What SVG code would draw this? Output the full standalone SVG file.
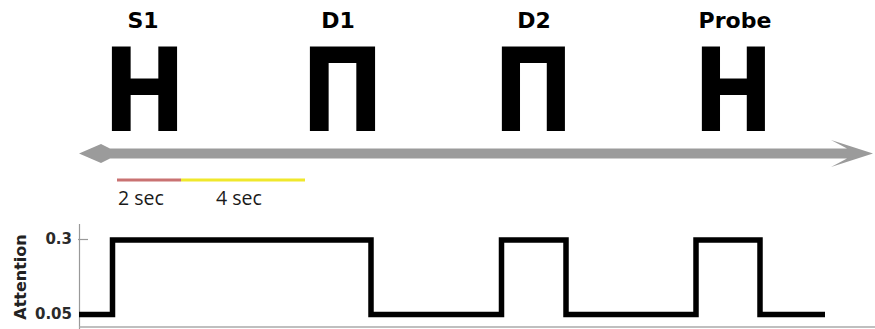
<svg xmlns="http://www.w3.org/2000/svg" width="875" height="329" viewBox="0 0 875 329">
<style>
.lbl{font-family:"DejaVu Sans",Verdana,sans-serif;font-weight:bold;font-size:22px;fill:#000;text-anchor:middle}
.glyph{font-family:"DejaVu Sans",Verdana,sans-serif;font-weight:bold;font-size:115px;fill:#000;text-anchor:middle}
.sec{font-family:"Open Sans","Liberation Sans",sans-serif;font-size:19.5px;fill:#1a1a1a}
.tick{font-family:"DejaVu Sans",sans-serif;font-weight:bold;font-size:15px;fill:#2a2a2a;text-anchor:end}
.axis{stroke:#999;stroke-width:1.2;fill:none}
</style>
<rect width="875" height="329" fill="#fff"/>
<g id="S1">
<text class="lbl" x="143" y="28">S1</text>
<text class="glyph" transform="translate(144.5,131) scale(0.867,1)">H</text>
</g>
<g id="D1">
<text class="lbl" x="338" y="28">D1</text>
<text class="glyph" transform="translate(342.5,131) scale(0.867,1)">Π</text>
</g>
<g id="D2">
<text class="lbl" x="534" y="28">D2</text>
<text class="glyph" transform="translate(533.5,131) scale(0.84,1)">Π</text>
</g>
<g id="Probe">
<text class="lbl" x="735" y="28">Probe</text>
<text class="glyph" transform="translate(733.5,131) scale(0.84,1)">H</text>
</g>
<g id="connectors">
<path d="M79 153.5 L101 144 L110 148.5 L847 148.5 L831 140 L873 153.5 L831 167 L847 158.5 L110 158.5 L101 163 Z" fill="#9b9b9b"/>
</g>
<g id="scale">
<line x1="117" y1="180" x2="181" y2="180" stroke="#c97272" stroke-width="3"/>
<line x1="181" y1="180" x2="305" y2="180" stroke="#f0e82c" stroke-width="3"/>
<text class="sec" x="118" y="205">2 sec</text>
<text class="sec" x="216" y="205">4 sec</text>
</g>
<g id="plot">
<line class="axis" x1="79.5" y1="224" x2="79.5" y2="329"/>
<line x1="79" y1="327" x2="875" y2="327" stroke="#aaa" stroke-width="1.5"/>
<line class="axis" x1="78" y1="239.5" x2="88" y2="239.5"/>
<text class="tick" x="72" y="244">0.3</text>
<text class="tick" x="72" y="318.5">0.05</text>
<text font-family="DejaVu Sans,sans-serif" font-weight="bold" font-size="16" fill="#222" text-anchor="middle" transform="translate(26,277) rotate(-90)">Attention</text>
<path d="M79 314.5 H112.5 V240 H371 V314.5 H501.5 V240 H566 V314.5 H696 V240 H760 V314.5 H825" fill="none" stroke="#000" stroke-width="5.5" stroke-linejoin="miter"/>
</g>
</svg>
